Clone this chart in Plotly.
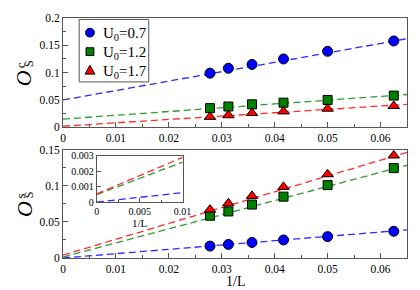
import plotly.graph_objects as go

# ---------------- data ----------------
inv_L = [1/36, 1/32, 1/28, 1/24, 1/20, 1/16]

# upper panel: O_S^c
oc_u07 = [0.099, 0.108, 0.115, 0.125, 0.139, 0.158]
oc_u12 = [0.035, 0.038, 0.042, 0.045, 0.050, 0.058]
oc_u17 = [0.019, 0.022, 0.026, 0.029, 0.034, 0.039]

# lower panel: O_S^s
os_u07 = [0.0165, 0.0188, 0.0215, 0.025, 0.0296, 0.037]
os_u12 = [0.0586, 0.0645, 0.074, 0.085, 0.101, 0.1245]
os_u17 = [0.067, 0.0757, 0.086, 0.0985, 0.116, 0.142]

# linear fits (values at 1/L = 0 and 1/L = 0.065)
fit_x = [0.0, 0.065]
fit_oc_u07 = [0.050, 0.162]
fit_oc_u12 = [0.015, 0.060]
fit_oc_u17 = [0.002, 0.042]
fit_os_u07 = [0.000, 0.039]
fit_os_u12 = [0.0013, 0.1285]
fit_os_u17 = [0.004, 0.1465]

# inset (zoom near 1/L -> 0)
inset_x = [0.0, 0.01]
inset_u07 = [0.00002, 0.00063]
inset_u12 = [0.0005, 0.0026]
inset_u17 = [0.00055, 0.0029]

labels = ["U<sub>0</sub>=0.7", "U<sub>0</sub>=1.2", "U<sub>0</sub>=1.7"]
colors = ["#0000ff", "#008000", "#ff0000"]
line_colors = ["#2a2aff", "#2f9a2f", "#ff2a2a"]
symbols = ["circle", "square", "triangle-up"]
sizes = [10, 9, 10]

FONT = "Liberation Serif, Times New Roman, serif"

# the page body has an 8px default margin: shrink the figure so it fits the window
PAGE_OFF = 8
WIN_W, WIN_H = 420, 290
W, H = WIN_W - PAGE_OFF, WIN_H - PAGE_OFF
# plot area in window pixels: x 63..414, y 12..258
PX_L, PX_R, PX_T, PX_B = 63, 414, 12, 258
L = PX_L - PAGE_OFF
T = PX_T - PAGE_OFF
R = W - (PX_R - PAGE_OFF)
B = H - (PX_B - PAGE_OFF)
pw, ph = PX_R - PX_L, PX_B - PX_T

def px_y(py):
    return (PX_B - py) / ph

def px_x(px):
    return (px - PX_L) / pw

fig = go.Figure()

upper = [oc_u07, oc_u12, oc_u17]
lower = [os_u07, os_u12, os_u17]
fit_up = [fit_oc_u07, fit_oc_u12, fit_oc_u17]
fit_lo = [fit_os_u07, fit_os_u12, fit_os_u17]
ins = [inset_u07, inset_u12, inset_u17]

dash = "7px,4px"
for i in range(3):
    fig.add_trace(go.Scatter(x=fit_x, y=fit_up[i], mode="lines", xaxis="x", yaxis="y",
                             line=dict(color=line_colors[i], width=1.3, dash=dash),
                             showlegend=False, hoverinfo="skip"))
    fig.add_trace(go.Scatter(x=fit_x, y=fit_lo[i], mode="lines", xaxis="x2", yaxis="y2",
                             line=dict(color=line_colors[i], width=1.3, dash=dash),
                             showlegend=False, hoverinfo="skip"))
    fig.add_trace(go.Scatter(x=inset_x, y=ins[i], mode="lines", xaxis="x3", yaxis="y3",
                             line=dict(color=line_colors[i], width=1.3, dash=dash),
                             showlegend=False, hoverinfo="skip"))

for i in range(3):
    fig.add_trace(go.Scatter(x=inv_L, y=upper[i], mode="markers", xaxis="x", yaxis="y",
                             showlegend=False,
                             marker=dict(color=colors[i], symbol=symbols[i], size=sizes[i],
                                         line=dict(color="black", width=1))))
    fig.add_trace(go.Scatter(x=inv_L, y=lower[i], mode="markers", xaxis="x2", yaxis="y2",
                             showlegend=False,
                             marker=dict(color=colors[i], symbol=symbols[i], size=sizes[i],
                                         line=dict(color="black", width=1))))

# ---- legend (shapes + annotations in paper coordinates) ----
leg_x0, leg_x1, leg_y0, leg_y1 = 79.5, 150.5, 13.5, 77.5
leg_mx = 90.5
leg_rows_y = [27, 46.5, 65.5]
leg_text_x = 102

fig.add_shape(type="rect", xref="paper", yref="paper",
              x0=px_x(leg_x0), x1=px_x(leg_x1), y0=px_y(leg_y1), y1=px_y(leg_y0),
              line=dict(color="#555555", width=1), fillcolor="white", layer="above")
r = 4.5
fig.add_shape(type="circle", xref="paper", yref="paper",
              x0=px_x(leg_mx - r), x1=px_x(leg_mx + r),
              y0=px_y(leg_rows_y[0] + r), y1=px_y(leg_rows_y[0] - r),
              line=dict(color="black", width=1), fillcolor=colors[0], layer="above")
s = 4
fig.add_shape(type="rect", xref="paper", yref="paper",
              x0=px_x(leg_mx - s), x1=px_x(leg_mx + s),
              y0=px_y(leg_rows_y[1] + s), y1=px_y(leg_rows_y[1] - s),
              line=dict(color="black", width=1), fillcolor=colors[1], layer="above")
ty = leg_rows_y[2]
tri = (f"M {px_x(leg_mx - 5)},{px_y(ty + 4)} L {px_x(leg_mx + 5)},{px_y(ty + 4)} "
       f"L {px_x(leg_mx)},{px_y(ty - 5)} Z")
fig.add_shape(type="path", xref="paper", yref="paper", path=tri,
              line=dict(color="black", width=1), fillcolor=colors[2], layer="above")

for i in range(3):
    fig.add_annotation(text=labels[i], xref="paper", yref="paper",
                       x=px_x(leg_text_x), y=px_y(leg_rows_y[i] + 1.5),
                       xanchor="left", yanchor="middle", showarrow=False,
                       font=dict(family=FONT, size=15, color="black"))

axis_common = dict(showline=True, linecolor="#555555", linewidth=1, mirror=True,
                   ticks="inside", ticklen=5, tickcolor="#555555", showgrid=False,
                   zeroline=False, tickfont=dict(family=FONT, size=11.5, color="black"))

fig.update_layout(
    width=W, height=H,
    margin=dict(l=L, r=R, t=T, b=B, pad=0),
    paper_bgcolor="white", plot_bgcolor="white",
    font=dict(family=FONT, color="black"),
    showlegend=False,
    xaxis=dict(domain=[0, 1], range=[0, 0.065], dtick=0.01, anchor="y",
               minor=dict(ticks="inside", dtick=0.005, ticklen=3, tickcolor="#555555"),
               **axis_common),
    yaxis=dict(domain=[px_y(124), 1], range=[0, 0.2], dtick=0.05, anchor="x",
               minor=dict(ticks="inside", dtick=0.025, ticklen=3, tickcolor="#555555"),
               **axis_common),
    xaxis2=dict(domain=[0, 1], range=[0, 0.065], dtick=0.01, anchor="y2",
                minor=dict(ticks="inside", dtick=0.005, ticklen=3, tickcolor="#555555"),
                **axis_common),
    yaxis2=dict(domain=[0, px_y(147)], range=[0, 0.15], dtick=0.05, anchor="x2",
                minor=dict(ticks="inside", dtick=0.025, ticklen=3, tickcolor="#555555"),
                **axis_common),
    xaxis3=dict(domain=[px_x(97.5), px_x(185)], range=[0, 0.01], dtick=0.005, anchor="y3",
                showline=True, linecolor="#555555", linewidth=1, mirror=True,
                ticks="inside", ticklen=4, tickcolor="#555555", showgrid=False, zeroline=False,
                minor=dict(ticks="inside", dtick=0.0025, ticklen=2, tickcolor="#555555"),
                tickfont=dict(family=FONT, size=10, color="black"), exponentformat="none",
                title=dict(text="1/L", font=dict(family=FONT, size=11, color="black"), standoff=0)),
    yaxis3=dict(domain=[px_y(201), px_y(153.3)], range=[0, 0.003], dtick=0.001, anchor="x3",
                showline=True, linecolor="#555555", linewidth=1, mirror=True,
                ticks="inside", ticklen=4, tickcolor="#555555", showgrid=False, zeroline=False,
                tickfont=dict(family=FONT, size=10, color="black"), exponentformat="none"),
)

# x-axis title of lower panel
fig.add_annotation(text="1/L", xref="paper", yref="paper", x=px_x(239), y=px_y(282),
                   showarrow=False, xanchor="center", yanchor="middle",
                   font=dict(family=FONT, size=14, color="black"))

# y-axis titles: O with stacked superscript/subscript
for (o_y, sup_y, sup) in [(74, 60, "c"), (208, 194.5, "s")]:
    fig.add_annotation(text="<i>O</i>", xref="paper", yref="paper",
                       x=px_x(23), y=px_y(o_y), textangle=-90, showarrow=False,
                       font=dict(family=FONT, size=22, color="black"),
                       xanchor="center", yanchor="middle")
    fig.add_annotation(text=sup, xref="paper", yref="paper",
                       x=px_x(19.5), y=px_y(sup_y), textangle=-90, showarrow=False,
                       font=dict(family=FONT, size=13, color="black"),
                       xanchor="center", yanchor="middle")
    fig.add_annotation(text="S", xref="paper", yref="paper",
                       x=px_x(28.5), y=px_y(sup_y - 1), textangle=-90, showarrow=False,
                       font=dict(family=FONT, size=12, color="black"),
                       xanchor="center", yanchor="middle")

fig.write_html("out.html")
